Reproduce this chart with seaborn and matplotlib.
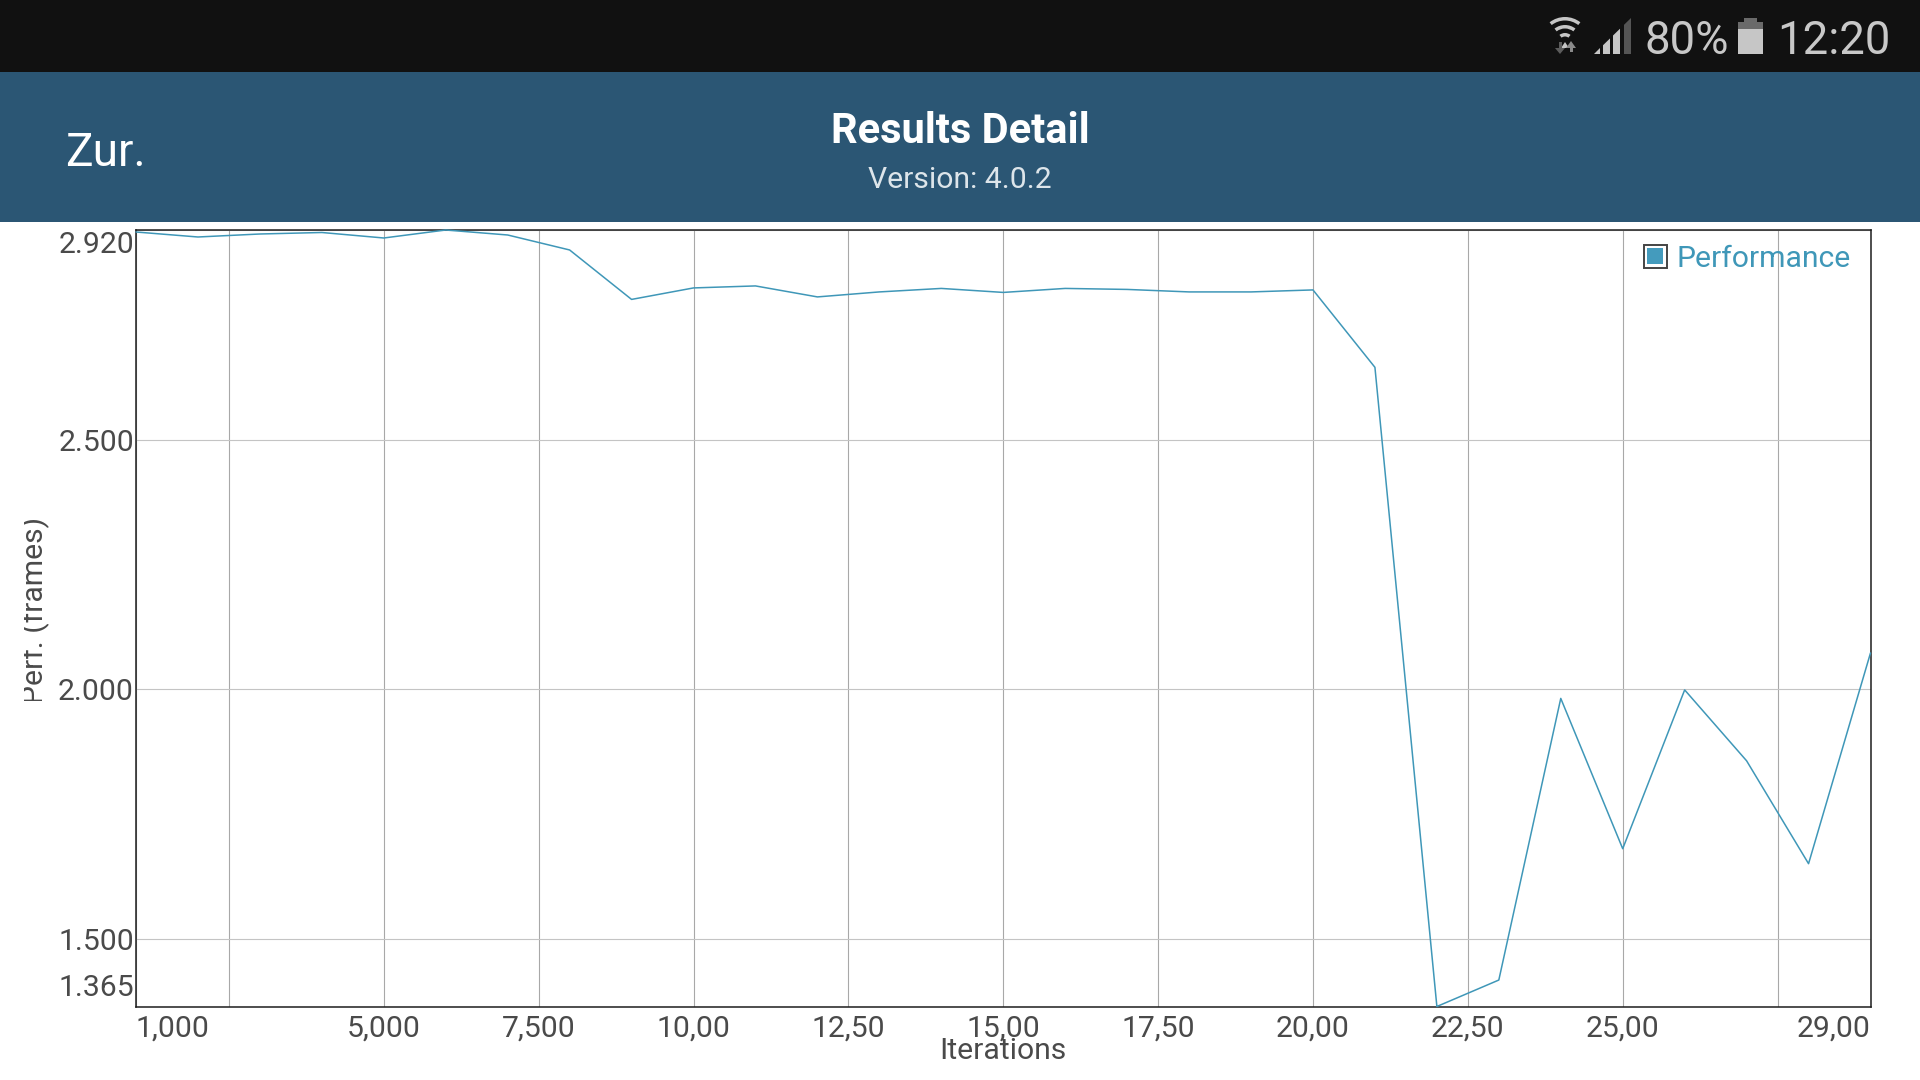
import matplotlib
matplotlib.use("Agg")
import matplotlib.pyplot as plt
import numpy as np
import pandas as pd
import seaborn as sns
from matplotlib.legend_handler import HandlerBase
from matplotlib.patches import Patch, Polygon, Rectangle, Wedge
from matplotlib.transforms import Bbox, ScaledTranslation

iterations = [1000, 2000, 3000, 4000, 5000, 6000, 7000, 8000, 9000, 10000,
              11000, 12000, 13000, 14000, 15000, 16000, 17000, 18000, 19000, 20000,
              21000, 22000, 23000, 24000, 25000, 26000, 27000, 28000, 29000]
performance = [2916, 2906, 2912, 2915, 2904, 2920, 2910, 2880, 2781, 2804,
               2808, 2786, 2796, 2803, 2795, 2803, 2801, 2796, 2796, 2800,
               2645, 1365, 1418, 1982, 1681, 1999, 1857, 1651, 2073]
x_ticks = [1000, 2500, 5000, 7500, 10000, 12500, 15000, 17500, 20000, 22500, 25000, 27500, 29000]
x_labels = ["1,000", "", "5,000", "7,500", "10,00", "12,50", "15,00", "17,50", "20,00", "22,50", "25,00", "", "29,00"]
y_ticks = [1365, 1500, 2000, 2500, 2920]
y_labels = ["1.365", "1.500", "2.000", "2.500", "2.920"]
series_name = "Performance"

LINE = "#3F97B8"
TEXT = "#4A4A4A"
W, H = 1920, 1080

sns.set_theme(style="white")
plt.rcParams["font.family"] = ["Roboto", "DejaVu Sans"]

fig = plt.figure(figsize=(W / 100, H / 100), dpi=100, facecolor="white")

# Screen chrome, in pixel coordinates
bg = fig.add_axes([0, 0, 1, 1], zorder=0)
bg.set_xlim(0, W)
bg.set_ylim(H, 0)
bg.axis("off")
bg.add_patch(Rectangle((0, 0), W, 72, fc="#111111", ec="none"))
bg.add_patch(Rectangle((0, 72), W, 150, fc="#2B5674", ec="none"))
bg.text(65, 152.5, "Zur.", color="white", fontsize=33, va="center", ha="left")
bg.text(960, 131.5, "Results Detail", color="white", fontsize=30, fontweight="bold", va="center", ha="center")
bg.text(960, 179.5, "Version: 4.0.2", color="#DDE5EA", fontsize=21.7, va="center", ha="center")

ICON = "#C6C6C6"
for r, w in [(25, 3.5), (17, 3.5), (9, 3.5)]:
    bg.add_patch(Wedge((1565, 42), r, 232, 308, width=w, fc=ICON, ec="none"))
bg.add_patch(Polygon([(1561, 48), (1569, 48), (1565, 42)][::1], fc=ICON, ec="none"))
bg.add_patch(Polygon([(1555, 48), (1565, 48), (1560, 54)], fc="#5C5C5C", ec="none"))
bg.add_patch(Polygon([(1566, 48), (1576, 48), (1571, 41)], fc="#8A8A8A", ec="none"))
bg.add_patch(Rectangle((1558.5, 42), 3, 7, fc="#5C5C5C", ec="none"))
bg.add_patch(Rectangle((1569.5, 47), 3, 5, fc="#8A8A8A", ec="none"))
for x0, x1, col in [(1594, 1600, ICON), (1603, 1610, ICON), (1613, 1620, ICON), (1624, 1631, "#555555")]:
    top0 = 54 - (x0 - 1594) * 36 / 37
    top1 = 54 - (x1 - 1594) * 36 / 37
    bg.add_patch(Polygon([(x0, 54), (x1, 54), (x1, top1), (x0, top0)], fc=col, ec="none"))
bg.add_patch(Rectangle((1744, 18), 13, 4, fc="#6A6A6A", ec="none"))
bg.add_patch(Rectangle((1738, 22), 25, 7, fc="#6A6A6A", ec="none"))
bg.add_patch(Rectangle((1738, 29), 25, 25, fc=ICON, ec="none"))
bg.text(1687, 41, "80%", color="#C8C8C8", fontsize=32.8, va="center", ha="center")
bg.text(1834, 41, "12:20", color="#C8C8C8", fontsize=32.8, va="center", ha="center")

# Chart
left, right, top, bottom = 136, 1870.5, 230, 1006.5
ax = fig.add_axes([left / W, 1 - bottom / H, (right - left) / W, (bottom - top) / H], zorder=2)
df = pd.DataFrame({"Iterations": iterations, series_name: performance})
sns.lineplot(data=df, x="Iterations", y=series_name, ax=ax, color=LINE, lw=1.1, legend=False, clip_on=False, zorder=3)
ax.set_xlim(1000, 29000)
ax.set_ylim(1365, 2920)
ax.set_xticks(x_ticks, x_labels)
ax.set_yticks(y_ticks, y_labels)
ax.set_xlabel("")
ax.set_ylabel("")
ax.grid(False)
ax.grid(True, axis="x", color="#A8A8A8", lw=0.8)
ax.grid(True, axis="y", color="#C4C4C4", lw=0.8)
ax.set_axisbelow(True)
for s in ax.spines.values():
    s.set_color("#1E1E1E")
    s.set_linewidth(1.1)
ax.tick_params(axis="both", length=0, labelsize=21.7, labelcolor=TEXT)
ax.tick_params(axis="x", pad=5.5)
ax.tick_params(axis="y", pad=1.5)

for lab, val in zip(ax.get_yticklabels(), y_ticks):
    dy = {1365: 22, 2920: -12}.get(val, 0)
    lab.set_transform(lab.get_transform() + ScaledTranslation(0, dy / 100, fig.dpi_scale_trans))
xl = ax.get_xticklabels()
xl[0].set_ha("left")
xl[-1].set_ha("right")

fig.text(1003 / W, 1 - 1051 / H, "Iterations", color=TEXT, fontsize=21.7, ha="center", va="center", zorder=3)
yl = fig.text(35 / W, 1 - 610 / H, "Perf. (frames)", color=TEXT, fontsize=21.7, rotation=90,
              ha="center", va="center", zorder=3)
yl.set_clip_box(Bbox([[24, H - 701], [70, H - 480]]))
yl.set_clip_on(True)


class DoubleBox(HandlerBase):
    def create_artists(self, legend, orig, xd, yd, width, height, fontsize, trans):
        side = 16.5
        x0 = -xd
        y0 = -yd + (height - side) / 2
        outer = Rectangle((x0, y0), side, side, fc="white", ec="#444444", lw=1.4, transform=trans)
        inner = Rectangle((x0 + 2.5, y0 + 2.5), side - 5, side - 5, fc="#449BBD", ec="none", transform=trans)
        return [outer, inner]


leg = ax.legend(handles=[Patch(label=series_name)], handler_map={Patch: DoubleBox()},
                loc="upper right", bbox_to_anchor=(1851 / W, 1 - 245 / H), bbox_transform=fig.transFigure,
                frameon=False, fontsize=21.7, borderpad=0, borderaxespad=0, handlelength=0.8,
                handletextpad=0.3, labelcolor=LINE)

fig.savefig("out.png", dpi=100, facecolor="white")
